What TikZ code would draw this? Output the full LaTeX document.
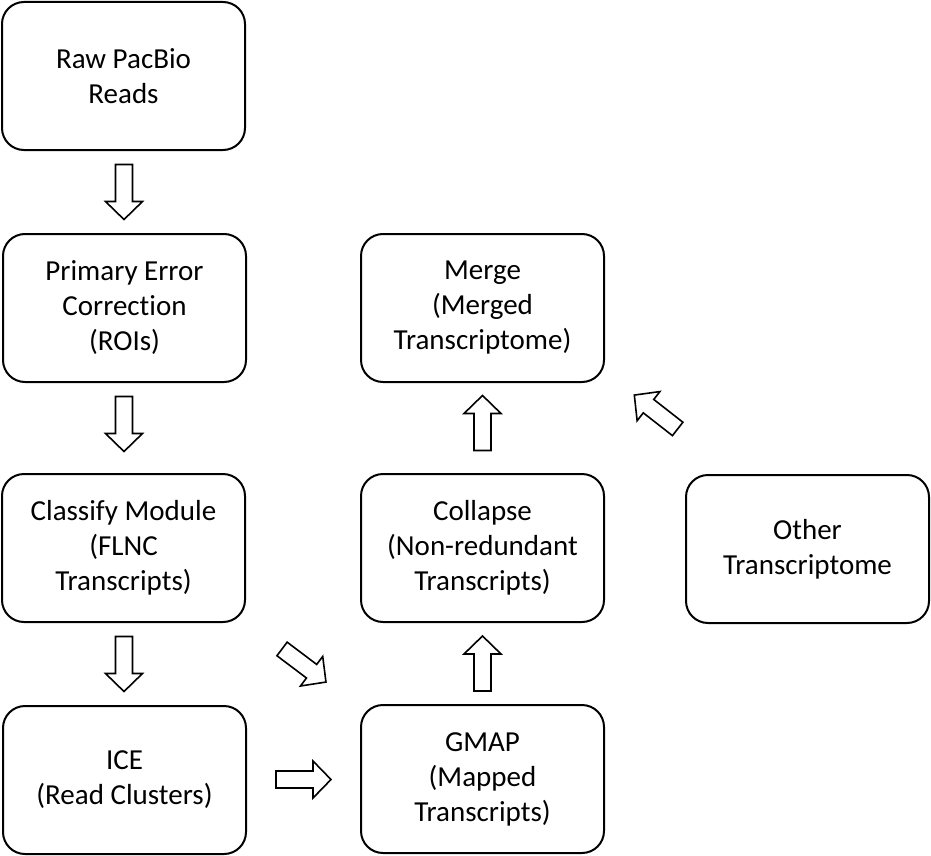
\documentclass[tikz,border=0pt]{standalone}
\usepackage{fontspec}
\setmainfont{Carlito}[Ligatures=NoCommon]
\usetikzlibrary{calc}
\tikzset{
  box/.style={draw, line width=2pt, rounded corners=22pt, minimum width=243pt, minimum height=148pt,
    align=center, inner sep=0pt, font=\fontsize{29}{35}\selectfont},
  barrow/.pic={\draw[line width=1.6pt, line join=miter, fill=white]
    (-27.5,-8.5) -- (9.5,-8.5) -- (9.5,-18.5) -- (27.5,0) -- (9.5,18.5) -- (9.5,8.5) -- (-27.5,8.5) -- cycle;}
}
\begin{document}
\begin{tikzpicture}[x=1pt,y=-1pt]
\useasboundingbox (0,0) rectangle (931,856);
\node[box] (raw)   at (123.5,76)  {Raw PacBio\\Reads};
\node[box] (pec)   at (124.5,308) {Primary Error\\Correction\\(ROIs)};
\node[box] (cls)   at (123.5,548) {Classify Module\\(FLNC\\Transcripts)};
\node[box] (ice)   at (124.5,780) {ICE\\(Read Clusters)};
\node[box] (merge) at (482.5,308) {Merge\\(Merged\\Transcriptome)};
\node[box] (coll)  at (482.5,548) {Collapse\\(Non-redundant\\Transcripts)};
\node[box] (gmap)  at (482.5,779) {GMAP\\(Mapped\\Transcripts)};
\node[box] (other) at (807.5,549) {Other\\Transcriptome};
\coordinate (d1) at ($(raw.south)!0.5!(pec.north)$);
\coordinate (d2) at ($(pec.south)!0.5!(cls.north)+(0,-4)$);
\coordinate (d3) at ($(cls.south)!0.5!(ice.north)$);
\coordinate (r1) at ($(ice.east)!0.5!(gmap.west)$);
\coordinate (g1) at ($(cls.east)!0.5!(gmap.west)+(1,2)$);
\coordinate (u1) at ($(gmap.north)!0.5!(coll.south)$);
\coordinate (u2) at ($(coll.north)!0.5!(merge.south)+(0,-5)$);
\coordinate (o1) at (656,412);
\pic[rotate=-90] at (d1) {barrow};
\pic[rotate=-90] at (d2) {barrow};
\pic[rotate=-90] at (d3) {barrow};
\pic at (r1) {barrow};
\pic[rotate=-37] at (g1) {barrow};
\pic[rotate=90] at (u1) {barrow};
\pic[rotate=90] at (u2) {barrow};
\pic[rotate=142] at (o1) {barrow};
\end{tikzpicture}
\end{document}
